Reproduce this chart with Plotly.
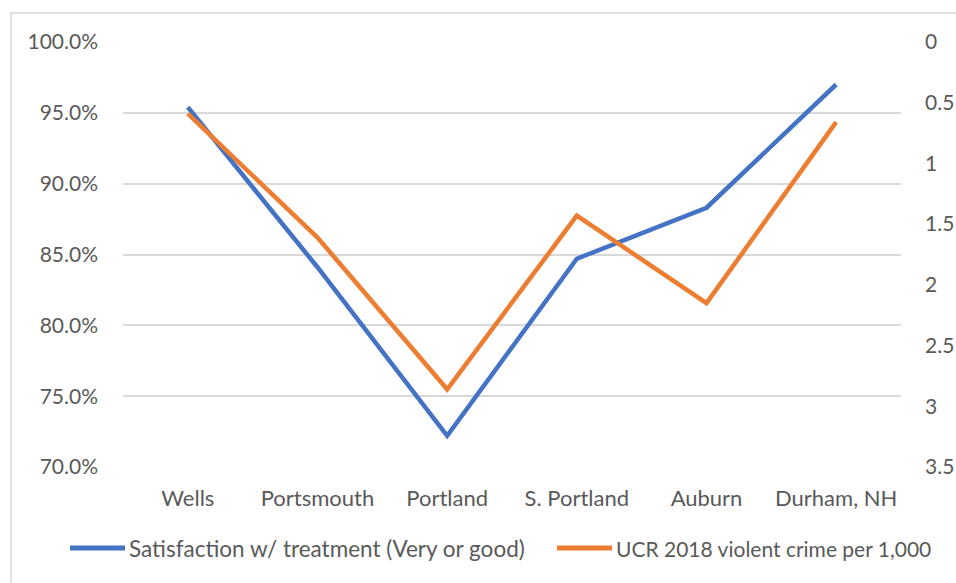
import plotly.graph_objects as go

# Towns compared
towns = ["Wells", "Portsmouth", "Portland", "S. Portland", "Auburn", "Durham, NH"]

# Share of respondents rating treatment "very good" or "good"
satisfaction = [0.954, 0.841, 0.722, 0.847, 0.883, 0.970]

# UCR 2018 violent crimes per 1,000 residents
violent_crime = [0.59, 1.61, 2.86, 1.43, 2.15, 0.66]

sat_name = "Satisfaction w/ treatment (Very or good)"
crime_name = "UCR 2018 violent crime per 1,000"

BLUE = "#4472C4"
ORANGE = "#ED7D31"
TEXT = "#595959"
GRID = "#D9D9D9"
FONT = "Lato"
FS_NUM = 21   # numeric axis labels
FS_TXT = 22   # category labels and legend

W, H = 956, 583
ML, MR, MT, MB = 123, 55, 42, 116
PW, PH = W - ML - MR, H - MT - MB


def px_x(px):
    return (px - ML) / PW


def px_y(py):
    return (H - MB - py) / PH


fig = go.Figure()
fig.add_trace(go.Scatter(
    x=towns, y=satisfaction, name=sat_name, mode="lines",
    line=dict(color=BLUE, width=4.5), yaxis="y", showlegend=False,
))
fig.add_trace(go.Scatter(
    x=towns, y=violent_crime, name=crime_name, mode="lines",
    line=dict(color=ORANGE, width=4.5), yaxis="y2", showlegend=False,
))

shapes = [
    # outer chart frame
    dict(type="rect", xref="paper", yref="paper",
         x0=px_x(11), x1=px_x(W + 20), y0=px_y(H + 20), y1=px_y(13),
         line=dict(color=GRID, width=1.5), fillcolor="rgba(0,0,0,0)", layer="below"),
]
annotations = []

# legend drawn along the bottom
legend_y = 548
for name, color, lx0, lx1, fs in [(sat_name, BLUE, 70, 125, 22.5),
                                  (crime_name, ORANGE, 557, 612, 21)]:
    shapes.append(dict(type="line", xref="paper", yref="paper",
                       x0=px_x(lx0), x1=px_x(lx1), y0=px_y(legend_y), y1=px_y(legend_y),
                       line=dict(color=color, width=5)))
    annotations.append(dict(xref="paper", yref="paper", x=px_x(lx1 + 2), y=px_y(legend_y),
                            xanchor="left", yanchor="middle", showarrow=False, text=name,
                            font=dict(family=FONT, size=fs, color=TEXT)))

fig.update_layout(
    width=W, height=H,
    margin=dict(l=ML, r=MR, t=MT, b=MB, pad=0, autoexpand=False),
    paper_bgcolor="white", plot_bgcolor="white",
    font=dict(family=FONT, size=FS_NUM, color=TEXT),
    showlegend=False,
    xaxis=dict(
        type="category", range=[-0.5, 5.5], showgrid=False, zeroline=False,
        showline=False, ticks="", ticklabelstandoff=16, automargin=False,
        tickfont=dict(family=FONT, size=FS_TXT, color=TEXT),
    ),
    yaxis=dict(
        range=[0.70, 1.00], dtick=0.05, tick0=0.70, tickformat=".1%",
        showgrid=True, gridcolor=GRID, gridwidth=1.5, zeroline=False,
        showline=False, ticks="", ticklabelstandoff=24, automargin=False,
        tickfont=dict(family=FONT, size=FS_NUM, color=TEXT),
    ),
    yaxis2=dict(
        overlaying="y", side="right", range=[3.5, 0], dtick=0.5, tick0=0,
        showgrid=False, zeroline=False, showline=False, ticks="",
        ticklabelstandoff=23, automargin=False,
        tickfont=dict(family=FONT, size=FS_NUM, color=TEXT),
    ),
    shapes=shapes,
    annotations=annotations,
)

fig.write_html("out.html")
